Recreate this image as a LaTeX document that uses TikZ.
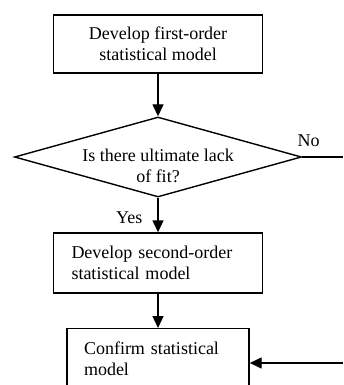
\documentclass[tikz,border=0pt]{standalone}
\usepackage{fontspec}
\setmainfont{Liberation Serif}
\usetikzlibrary{shapes.geometric,arrows.meta}
\tikzset{
  txt/.style={font=\fontsize{18}{21.5}\selectfont},
  procbox/.style={draw, line width=1.4pt, rectangle, txt},
  decision/.style={draw, line width=1.4pt, diamond, inner sep=0pt, shape aspect=3.6, minimum width=287pt, minimum height=80pt},
  conn/.style={line width=1.4pt},
  arr/.style={conn, -{Triangle[length=12pt,width=11pt]}},
}
\begin{document}
\begin{tikzpicture}[x=1pt,y=-1pt]
\useasboundingbox (0,0) rectangle (343,385);
\clip (0,0) rectangle (343,385);
\fill[white] (0,0) rectangle (343,385);

\node[procbox, minimum width=209pt, minimum height=58pt, align=center, inner sep=0pt] (b1) at (158,44) {Develop first-order\\statistical model};
\node[decision] (d) at (158,157) {};
\node[txt, align=center, inner sep=0pt] (dt) at (158,166) {Is there ultimate lack\\of fit?};
\node[procbox, minimum width=209pt, minimum height=60pt, text width=173pt, align=left, inner xsep=18pt, inner ysep=0pt] (b2) at (158,263) {Develop second-order\\statistical model};
\node[procbox, anchor=north, minimum width=182pt, text width=148pt, align=left, inner xsep=17pt, inner ysep=13pt, text depth=60pt] (b3) at (158,328) {Confirm statistical\\model};

\coordinate (noend) at (343,157);
\coordinate (back) at (343,363);

\draw[arr] (b1.south) -- (d.north);
\draw[arr] (d.south) -- node[txt, left, inner sep=0pt, xshift=-15pt, yshift=-3pt] (yes) {Yes} (b2.north);
\draw[arr] (b2.south) -- (b3.north);
\draw[conn] (d.east) -- node[txt, above, inner sep=0pt, xshift=-14pt, yshift=10pt] (no) {No} (noend);
\draw[arr] (back) -- (back -| b3.east);
\end{tikzpicture}
\end{document}
